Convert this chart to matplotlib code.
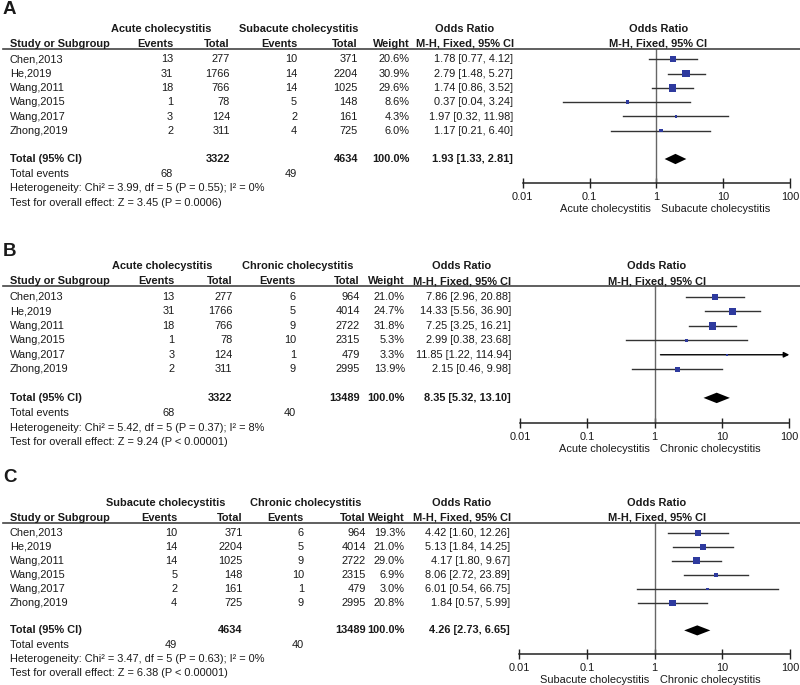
import matplotlib
matplotlib.use("Agg")
import matplotlib.pyplot as plt

plt.rcParams['font.family'] = ['Liberation Sans', 'DejaVu Sans']

# study names shared by all three comparisons
studies = ["Chen,2013", "He,2019", "Wang,2011", "Wang,2015", "Wang,2017", "Zhong,2019"]

# A: acute vs subacute
a_groups = ["Acute cholecystitis", "Subacute cholecystitis"]
a_ev1 = [13, 31, 18, 1, 3, 2]
a_tot1 = [277, 1766, 766, 78, 124, 311]
a_ev2 = [10, 14, 14, 5, 2, 4]
a_tot2 = [371, 2204, 1025, 148, 161, 725]
a_weight = [20.6, 30.9, 29.6, 8.6, 4.3, 6.0]
a_or = [1.78, 2.79, 1.74, 0.37, 1.97, 1.17]
a_lo = [0.77, 1.48, 0.86, 0.04, 0.32, 0.21]
a_hi = [4.12, 5.27, 3.52, 3.24, 11.98, 6.40]
a_pooled = [1.93, 1.33, 2.81]
a_totals = [3322, 4634]
a_events = [68, 49]
a_het = "Heterogeneity: Chi² = 3.99, df = 5 (P = 0.55); I² = 0%"
a_test = "Test for overall effect: Z = 3.45 (P = 0.0006)"

# B: acute vs chronic
b_groups = ["Acute cholecystitis", "Chronic cholecystitis"]
b_ev1 = [13, 31, 18, 1, 3, 2]
b_tot1 = [277, 1766, 766, 78, 124, 311]
b_ev2 = [6, 5, 9, 10, 1, 9]
b_tot2 = [964, 4014, 2722, 2315, 479, 2995]
b_weight = [21.0, 24.7, 31.8, 5.3, 3.3, 13.9]
b_or = [7.86, 14.33, 7.25, 2.99, 11.85, 2.15]
b_lo = [2.96, 5.56, 3.25, 0.38, 1.22, 0.46]
b_hi = [20.88, 36.90, 16.21, 23.68, 114.94, 9.98]
b_pooled = [8.35, 5.32, 13.10]
b_totals = [3322, 13489]
b_events = [68, 40]
b_het = "Heterogeneity: Chi² = 5.42, df = 5 (P = 0.37); I² = 8%"
b_test = "Test for overall effect: Z = 9.24 (P < 0.00001)"

# C: subacute vs chronic
c_groups = ["Subacute cholecystitis", "Chronic cholecystitis"]
c_ev1 = [10, 14, 14, 5, 2, 4]
c_tot1 = [371, 2204, 1025, 148, 161, 725]
c_ev2 = [6, 5, 9, 10, 1, 9]
c_tot2 = [964, 4014, 2722, 2315, 479, 2995]
c_weight = [19.3, 21.0, 29.0, 6.9, 3.0, 20.8]
c_or = [4.42, 5.13, 4.17, 8.06, 6.01, 1.84]
c_lo = [1.60, 1.84, 1.80, 2.72, 0.54, 0.57]
c_hi = [12.26, 14.25, 9.67, 23.89, 66.75, 5.99]
c_pooled = [4.26, 2.73, 6.65]
c_totals = [4634, 13489]
c_events = [49, 40]
c_het = "Heterogeneity: Chi² = 3.47, df = 5 (P = 0.63); I² = 0%"
c_test = "Test for overall effect: Z = 6.38 (P < 0.00001)"

ticks = [0.01, 0.1, 1, 10, 100]
tick_labels = ["0.01", "0.1", "1", "10", "100"]

W, H = 800, 685
FS = 7.9
TXT = "#1a1a1a"
BLUE = "#2e3a9e"
PITCH = 14.3

fig = plt.figure(figsize=(W / 100, H / 100), dpi=100)


def put(x, y, s, ha="left", bold=False, size=FS):
    fig.text(x / W, 1 - y / H, s, ha=ha, va="center", fontsize=size,
             fontweight="bold" if bold else "normal", color=TXT)


def panel(letter, lay, groups, ev1, tot1, ev2, tot2, weight, orv, lo, hi,
          pooled, totals, events, het, test):
    y0, s = lay["y0"], lay["s"]
    put(3, lay["ly"], letter, bold=True, size=13.5)

    # table header
    put(lay["ev1"] - 12, y0 - 30 * s, groups[0], ha="center", bold=True)
    put(lay["ev2"] + 2, y0 - 30 * s, groups[1], ha="center", bold=True)
    hy = y0 - 15.3 * s
    put(10, hy, "Study or Subgroup", bold=True)
    put(lay["ev1"], hy, "Events", ha="right", bold=True)
    put(lay["tot1"], hy, "Total", ha="right", bold=True)
    put(lay["ev2"], hy, "Events", ha="right", bold=True)
    put(lay["tot2"], hy, "Total", ha="right", bold=True)
    put(lay["w"], hy, "Weight", ha="right", bold=True)
    put(lay["orh"], y0 - 30 * s, "Odds Ratio", ha="center", bold=True)
    put(lay["orh"], hy, "M-H, Fixed, 95% CI", ha="center", bold=True)
    xone = (lay["fl"] + lay["fr"]) / 2
    put(xone + 2, y0 - 30 * s, "Odds Ratio", ha="center", bold=True)
    put(xone + 2, hy, "M-H, Fixed, 95% CI", ha="center", bold=True)
    ly = 1 - (y0 - 10.3 * s) / H
    fig.add_artist(plt.Line2D([3 / W, 1], [ly, ly], color="#444444", lw=1.2))

    # study rows
    for i in range(len(studies)):
        y = y0 + PITCH * s * i
        put(10, y, studies[i])
        put(lay["ev1"], y, str(ev1[i]), ha="right")
        put(lay["tot1"], y, str(tot1[i]), ha="right")
        put(lay["ev2"], y, str(ev2[i]), ha="right")
        put(lay["tot2"], y, str(tot2[i]), ha="right")
        put(lay["w"], y, "%.1f%%" % weight[i], ha="right")
        put(lay["orr"], y, "%.2f [%.2f, %.2f]" % (orv[i], lo[i], hi[i]), ha="right")

    # totals
    ty = y0 + 99.7 * s
    put(10, ty, "Total (95% CI)", bold=True)
    put(lay["tot1"], ty, str(totals[0]), ha="right", bold=True)
    put(lay["tot2"], ty, str(totals[1]), ha="right", bold=True)
    put(lay["w"], ty, "100.0%", ha="right", bold=True)
    put(lay["orr"], ty, "%.2f [%.2f, %.2f]" % tuple(pooled), ha="right", bold=True)
    ey = y0 + 114.7 * s
    put(10, ey, "Total events")
    put(lay["ev1"], ey, str(events[0]), ha="right")
    put(lay["ev2"], ey, str(events[1]), ha="right")
    put(10, y0 + 129 * s, het)
    put(10, y0 + 143.4 * s, test)

    # forest plot
    top = y0 - 10.3 * s
    bot = y0 + 124 * s
    ax = fig.add_axes([lay["fl"] / W, 1 - bot / H, (lay["fr"] - lay["fl"]) / W, (bot - top) / H])
    ax.set_xscale("log")
    ax.set_xlim(0.01, 100)
    ax.set_ylim(124 / PITCH, -10.3 / PITCH)
    ax.patch.set_alpha(0)
    for side in ["top", "left", "right"]:
        ax.spines[side].set_visible(False)
    ax.spines["bottom"].set_color("#222222")
    ax.spines["bottom"].set_linewidth(1.1)
    ax.set_yticks([])
    ax.set_xticks(ticks)
    ax.set_xticklabels(tick_labels)
    ax.minorticks_off()
    ax.tick_params(axis="x", direction="inout", length=7, width=1.0, color="#222222",
                   labelsize=FS, labelcolor=TXT, pad=3)
    ax.axvline(1, color="#666666", lw=1.0)

    for i in range(len(studies)):
        if hi[i] > 100:
            ax.annotate("", xy=(100, i), xytext=(lo[i], i),
                        arrowprops=dict(arrowstyle="-|>", color="black", lw=1.0,
                                        mutation_scale=8, shrinkA=0, shrinkB=0),
                        annotation_clip=False)
        else:
            ax.plot([lo[i], hi[i]], [i, i], color="#333333", lw=1.0)
    ax.scatter(orv, range(len(studies)), s=[0.95 * w for w in weight], marker="s",
               color=BLUE, linewidths=0, zorder=3)
    tr = 99.7 / PITCH
    ax.fill([pooled[1], pooled[0], pooled[2], pooled[0]],
            [tr, tr - 0.36, tr, tr + 0.36], color="black", lw=0)

    dy = y0 + 150 * s
    put(xone - 5, dy, groups[0], ha="right")
    put(xone + 5, dy, groups[1], ha="left")


lay_a = dict(y0=59.3, s=1.0, ly=9, ev1=173, tot1=230, ev2=297, tot2=358, w=410,
             orr=513, orh=465, fl=522.7, fr=790)
lay_b = dict(y0=296.7, s=1.015, ly=252, ev1=174.5, tot1=232.5, ev2=296, tot2=360, w=405,
             orr=511, orh=462, fl=520, fr=789.3)
lay_c = dict(y0=532.7, s=0.98, ly=477, ev1=177.3, tot1=242.7, ev2=304, tot2=365.7, w=405,
             orr=510, orh=462, fl=519.3, fr=790)

panel("A", lay_a, a_groups, a_ev1, a_tot1, a_ev2, a_tot2, a_weight, a_or, a_lo, a_hi,
      a_pooled, a_totals, a_events, a_het, a_test)
panel("B", lay_b, b_groups, b_ev1, b_tot1, b_ev2, b_tot2, b_weight, b_or, b_lo, b_hi,
      b_pooled, b_totals, b_events, b_het, b_test)
panel("C", lay_c, c_groups, c_ev1, c_tot1, c_ev2, c_tot2, c_weight, c_or, c_lo, c_hi,
      c_pooled, c_totals, c_events, c_het, c_test)

fig.savefig("out.png", dpi=100)
